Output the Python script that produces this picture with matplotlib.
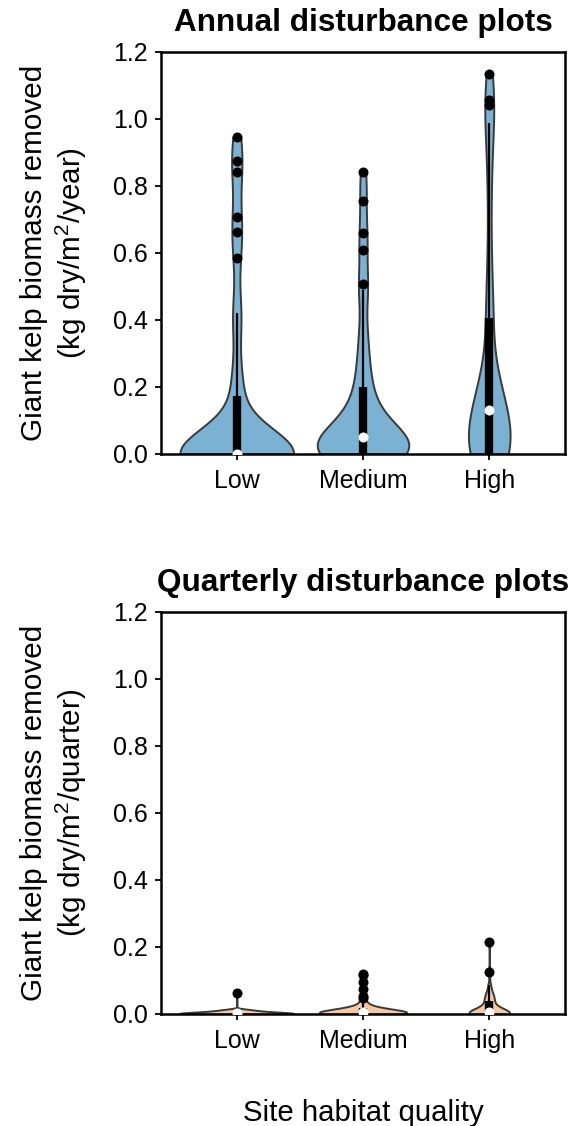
import numpy as np
import matplotlib
matplotlib.use("Agg")
import matplotlib.pyplot as plt

# categories
sites = ["Low", "Medium", "High"]

# annual disturbance plots (kg dry/m2/year)
annual_low = [0.0] * 29 + [0.17, 0.18, 0.25, 0.40, 0.42,
                           0.584, 0.662, 0.706, 0.842, 0.873, 0.945]
annual_medium = [0.0] * 11 + [0.005, 0.01, 0.015, 0.02, 0.025, 0.03, 0.035, 0.04, 0.045,
                              0.055, 0.06, 0.07, 0.08, 0.09, 0.10, 0.12, 0.14, 0.17, 0.19,
                              0.23, 0.27, 0.32, 0.38, 0.49,
                              0.506, 0.607, 0.66, 0.756, 0.841]
annual_high = [0.0] * 10 + [0.02, 0.04, 0.06, 0.08, 0.10, 0.11, 0.12, 0.14,
                            0.15, 0.16, 0.17, 0.19, 0.22, 0.27, 0.39, 0.41,
                            0.50, 0.62, 0.78, 0.90, 0.987, 1.041, 1.057, 1.135]

# quarterly disturbance plots (kg dry/m2/quarter)
quarterly_low = [0.0] * 12 + [0.001, 0.001, 0.002, 0.002, 0.003, 0.003, 0.003, 0.004,
                              0.004, 0.005, 0.005, 0.005, 0.006, 0.006, 0.006, 0.007,
                              0.008, 0.009, 0.010, 0.011, 0.012, 0.013, 0.014, 0.064]
quarterly_medium = [0.0] * 10 + [0.001, 0.002, 0.002, 0.003, 0.004, 0.004, 0.005, 0.006,
                                 0.006, 0.007, 0.008, 0.009, 0.010, 0.011, 0.012, 0.013,
                                 0.014, 0.015, 0.016, 0.018, 0.022, 0.027, 0.033,
                                 0.047, 0.054, 0.074, 0.096, 0.115, 0.120]
quarterly_high = [0.0] * 9 + [0.001, 0.002, 0.003, 0.004, 0.005, 0.006, 0.007, 0.009,
                              0.012, 0.016, 0.020, 0.025, 0.030, 0.040, 0.045, 0.050,
                              0.058, 0.066, 0.085, 0.126, 0.215]

yticks = [0.0, 0.2, 0.4, 0.6, 0.8, 1.0, 1.2]

plt.rcParams['font.family'] = ['Liberation Sans', 'DejaVu Sans']
plt.rcParams['mathtext.fontset'] = 'custom'
plt.rcParams['mathtext.rm'] = 'Liberation Sans'
plt.rcParams['mathtext.default'] = 'regular'


def draw_panel(ax, groups, color, title, unit, widths, bw):
    pos = np.arange(len(groups))
    parts = ax.violinplot(groups, positions=pos, widths=widths, bw_method=bw,
                          points=400, showextrema=False)
    for body in parts["bodies"]:
        body.set_facecolor(color)
        body.set_edgecolor("#3a3a3a")
        body.set_linewidth(1.4)
        body.set_alpha(1)
        body.set_zorder(2)

    for i, vals in enumerate(groups):
        v = np.asarray(vals)
        q1, med, q3 = np.percentile(v, [25, 50, 75])
        iqr = q3 - q1
        lo = v[v >= q1 - 1.5 * iqr].min()
        hi = v[v <= q3 + 1.5 * iqr].max()
        out = v[(v < lo) | (v > hi)]
        ax.plot([i, i], [lo, hi], color="black", lw=1.6, solid_capstyle="butt", zorder=3)
        ax.plot([i, i], [q1, q3], color="black", lw=6, solid_capstyle="butt", zorder=4)
        ax.scatter([i], [med], s=52, color="white", zorder=5, linewidths=0)
        ax.scatter([i] * len(out), out, s=52, color="black", zorder=6, linewidths=0)

    ax.set_xlim(-0.6, 2.6)
    ax.set_xticks(pos)
    ax.set_xticklabels(sites)
    ax.set_ylim(0, 1.2)
    ax.set_yticks(yticks)
    ax.set_yticklabels([f"{t:.1f}" for t in yticks])
    ax.set_title(title, fontsize=22.7, fontweight="bold", pad=15)
    ax.set_ylabel("Giant kelp biomass removed\n(kg dry/m$^2$/" + unit + ")",
                  fontsize=21.3, labelpad=17.5)
    ax.tick_params(axis="both", labelsize=18, length=4.5, width=1.3)
    ax.tick_params(axis="x", pad=6.5)
    ax.tick_params(axis="y", pad=5)
    for s in ax.spines.values():
        s.set_linewidth(1.8)


fig = plt.figure(figsize=(5.71, 11.26), dpi=100)
ax1 = fig.add_axes([0.282, 0.597, 0.7075, 0.357])
ax2 = fig.add_axes([0.282, 0.0995, 0.7075, 0.357])

draw_panel(ax1, [annual_low, annual_medium, annual_high], "#7BB1D3",
           "Annual disturbance plots", "year", [0.9, 0.725, 0.33], 0.263)
draw_panel(ax2, [quarterly_low, quarterly_medium, quarterly_high], "#F7C8A4",
           "Quarterly disturbance plots", "quarter", [0.9, 0.69, 0.32], 0.263)
ax2.set_xlabel("Site habitat quality", fontsize=21.2, labelpad=33)

fig.savefig("out.png", dpi=100)
